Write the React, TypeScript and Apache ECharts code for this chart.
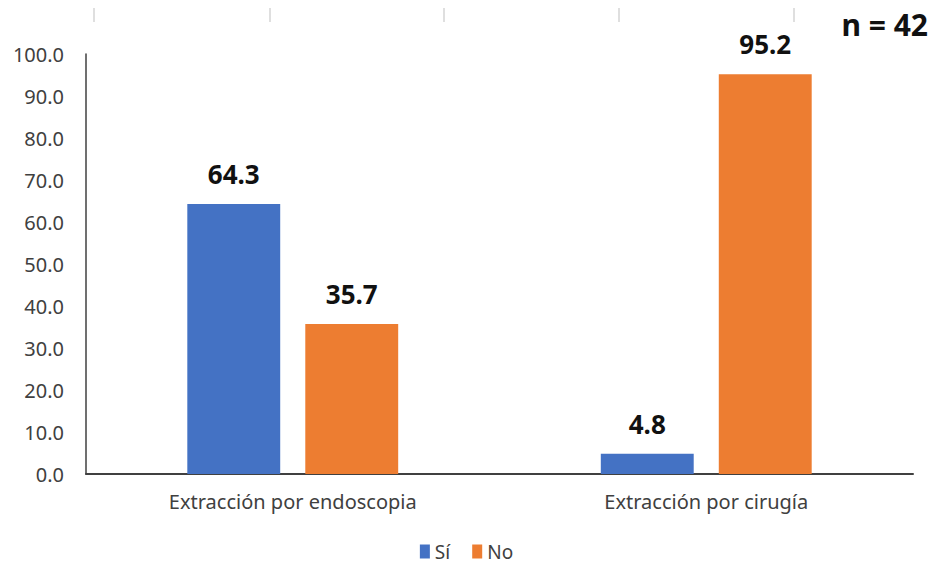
import React, { useEffect, useRef } from "react";
import * as echarts from "echarts";

const categories = ["Extracción por endoscopia", "Extracción por cirugía"];
const seriesNames = ["Sí", "No"];
const siValues = [64.3, 4.8];
const noValues = [35.7, 95.2];
const colors = ["#4472C4", "#ED7D31"];
const sampleLabel = "n = 42";
// faint separator marks along the top edge
const topMarksX = [94, 270, 444, 619, 794];

const FONT = "'Noto Sans', 'Open Sans', sans-serif";

export default function App() {
  const ref = useRef<HTMLDivElement>(null);

  useEffect(() => {
    document.body.style.margin = "0";
    if (!ref.current) return;
    const chart = echarts.init(ref.current, undefined, { renderer: "svg" });

    const barLabel = {
      show: true,
      position: "top" as const,
      distance: 17,
      fontFamily: FONT,
      fontSize: 26,
      fontWeight: "bold" as const,
      color: "#111111",
      formatter: (p: any) => Number(p.value).toFixed(1),
    };

    chart.setOption({
      animation: false,
      backgroundColor: "#ffffff",
      textStyle: { fontFamily: FONT },
      grid: { left: 86, right: 20, top: 54, bottom: 95, containLabel: false },
      legend: {
        bottom: 3,
        left: "center",
        itemWidth: 10,
        itemHeight: 14,
        itemGap: 22,
        icon: "rect",
        data: seriesNames,
        textStyle: { fontFamily: FONT, fontSize: 19, color: "#404040" },
      },
      xAxis: {
        type: "category",
        data: categories,
        axisLine: { lineStyle: { color: "#404040", width: 2 } },
        axisTick: { show: false },
        axisLabel: {
          margin: 17,
          fontFamily: FONT,
          fontSize: 20,
          color: "#404040",
        },
      },
      yAxis: {
        type: "value",
        min: 0,
        max: 100,
        interval: 10,
        axisLine: { show: true, lineStyle: { color: "#404040", width: 1.5 } },
        axisTick: { show: false },
        splitLine: { show: false },
        axisLabel: {
          margin: 22,
          fontFamily: FONT,
          fontSize: 20,
          color: "#404040",
          formatter: (v: number) => v.toFixed(1),
        },
      },
      series: [
        {
          name: seriesNames[0],
          type: "bar",
          data: siValues,
          itemStyle: { color: colors[0] },
          barGap: "27%",
          barCategoryGap: "49%",
          label: barLabel,
        },
        {
          name: seriesNames[1],
          type: "bar",
          data: noValues,
          itemStyle: { color: colors[1] },
          barGap: "27%",
          barCategoryGap: "49%",
          label: barLabel,
        },
      ],
      graphic: [
        ...topMarksX.map((x) => ({
          type: "line",
          shape: { x1: x, y1: 8, x2: x, y2: 22 },
          style: { stroke: "#d4d4d4", lineWidth: 1.5 },
          silent: true,
        })),
        {
          type: "text",
          right: 5,
          top: 9,
          style: {
            text: sampleLabel,
            fontFamily: FONT,
            fontSize: 30,
            fontWeight: "bold",
            fill: "#111111",
          },
        },
      ],
    });

    return () => chart.dispose();
  }, []);

  return (
    <div
      ref={ref}
      style={{ position: "absolute", left: 0, top: 0, width: 933, height: 569 }}
    />
  );
}
